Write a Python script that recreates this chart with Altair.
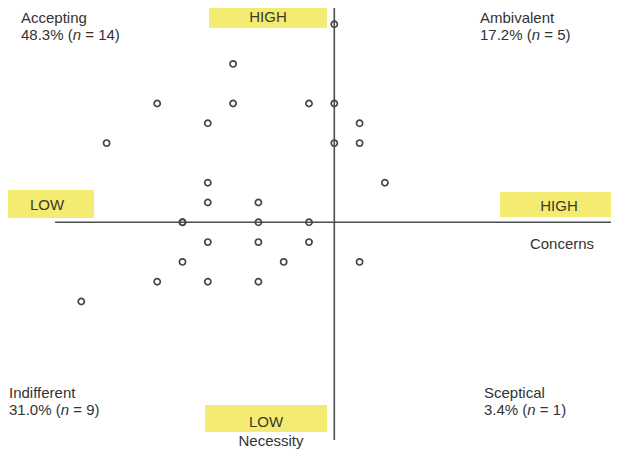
import altair as alt
import pandas as pd

# ---- data: respondent positions (Concerns score, Necessity score, centred) ----
concerns = [0, -4, -7, -4, -1, 0, -5, 1, -9, 0, 1, 2, -5, -5, -3,
            -6, -6, -3, -1, -5, -3, -1, -6, -2, 1, -7, -5, -3, -10]
necessity = [10, 8, 6, 6, 6, 6, 5, 5, 4, 4, 4, 2, 2, 1, 1,
             0, 0, 0, 0, -1, -1, -1, -2, -2, -2, -3, -3, -3, -4]

quad_names = ["Accepting", "Ambivalent", "Indifferent", "Sceptical"]
quad_pct = ["48.3%", "17.2%", "31.0%", "3.4%"]
quad_n = ["14", "5", "9", "1"]

box_labels = ["HIGH", "LOW", "HIGH", "LOW"]
axis_titles = ["Concerns", "Necessity"]

# ---- geometry (pixel layout of the reference) ----
W, H = 603, 442
UX, UY = 25.3, 19.8          # pixels per unit
OX, OY = 334.3, 222.3        # page pixel of origin
XMIN = -(OX - 8) / UX
XMAX = XMIN + W / UX
YMAX = (OY - 8) / UY
YMIN = YMAX - H / UY


def px2x(px):
    return (px - OX) / UX


def py2y(py):
    return (OY - py) / UY


FONT = "Liberation Sans"
FS = 15
TXT = "#333333"
YELLOW = "#F4EB72"

xs = alt.Scale(domain=[XMIN, XMAX], nice=False, zero=False)
ys = alt.Scale(domain=[YMIN, YMAX], nice=False, zero=False)


def X(f="x"):
    return alt.X(f"{f}:Q", scale=xs, axis=None)


def Y(f="y"):
    return alt.Y(f"{f}:Q", scale=ys, axis=None)


# Arial/Liberation Sans advance widths (per 1000 em)
AW = {**{d: 556 for d in "0123456789"}, ".": 278, "%": 889, " ": 278,
      "(": 333, ")": 333, "=": 584, "n": 556}


def tw(s):
    return sum(AW.get(c, 556) for c in s) * FS / 1000.0


# ---- points ----
pts = pd.DataFrame({"x": concerns, "y": necessity})
points = alt.Chart(pts).mark_point(
    shape="circle", filled=False, size=38, strokeWidth=1.7, color="#454545", opacity=1
).encode(x=X(), y=Y())

# ---- axis lines ----
rules_df = pd.DataFrame({
    "x": [px2x(55), 0.0], "x2": [px2x(616), 0.0],
    "y": [0.0, py2y(3)], "y2": [0.0, py2y(440)],
})
rules = alt.Chart(rules_df).mark_rule(color="#4d4d4d", strokeWidth=1.6).encode(
    x=X(), x2="x2:Q", y=Y(), y2="y2:Q")

# ---- yellow boxes ----
box_px = [(209, 0, 327, 28), (0, 190, 94, 218), (500, 192, 616, 217), (205, 405, 327, 432)]
box_txt_px = [(268, 22), (47, 210), (559, 211), (266, 427)]
boxes_df = pd.DataFrame({
    "x": [px2x(b[0]) for b in box_px], "x2": [px2x(b[2]) for b in box_px],
    "y": [py2y(b[1]) for b in box_px], "y2": [py2y(b[3]) for b in box_px],
})
boxes = alt.Chart(boxes_df).mark_rect(color=YELLOW).encode(
    x=X(), x2="x2:Q", y=Y(), y2="y2:Q")

box_text_df = pd.DataFrame({
    "x": [px2x(p[0]) for p in box_txt_px], "y": [py2y(p[1]) for p in box_txt_px],
    "t": box_labels,
})
box_text = alt.Chart(box_text_df).mark_text(
    font=FONT, fontSize=FS, color="#3a3a2a", align="center", baseline="alphabetic"
).encode(x=X(), y=Y(), text="t:N")

# ---- axis titles ----
title_px = [(562, 249), (271, 446)]
titles_df = pd.DataFrame({
    "x": [px2x(p[0]) for p in title_px], "y": [py2y(p[1]) for p in title_px],
    "t": axis_titles,
})
titles = alt.Chart(titles_df).mark_text(
    font=FONT, fontSize=FS, color=TXT, align="center", baseline="alphabetic"
).encode(x=X(), y=Y(), text="t:N")

# ---- quadrant labels ----
quad_px = [(21, 23, 40), (480, 23, 40), (9, 398, 415), (484, 398, 415)]
normal_rows, italic_rows = [], []
for name, pct, n, (qx, b1, b2) in zip(quad_names, quad_pct, quad_n, quad_px):
    normal_rows.append({"x": px2x(qx), "y": py2y(b1), "t": name})
    pre = f"{pct} ("
    normal_rows.append({"x": px2x(qx), "y": py2y(b2), "t": pre})
    italic_rows.append({"x": px2x(qx + tw(pre)), "y": py2y(b2), "t": "n"})
    normal_rows.append({"x": px2x(qx + tw(pre) + tw("n ")), "y": py2y(b2), "t": f"= {n})"})

q_norm = alt.Chart(pd.DataFrame(normal_rows)).mark_text(
    font=FONT, fontSize=FS, color=TXT, align="left", baseline="alphabetic"
).encode(x=X(), y=Y(), text="t:N")
q_ital = alt.Chart(pd.DataFrame(italic_rows)).mark_text(
    font=FONT, fontSize=FS, color=TXT, align="left", baseline="alphabetic", fontStyle="italic"
).encode(x=X(), y=Y(), text="t:N")

chart = alt.layer(boxes, rules, points, box_text, titles, q_norm, q_ital).properties(
    width=W, height=H, padding=0, autosize=alt.AutoSizeParams(type="none"),
    background="white",
).configure_view(stroke=None)

chart.save("out.html", embed_options={"renderer": "svg", "actions": False})
